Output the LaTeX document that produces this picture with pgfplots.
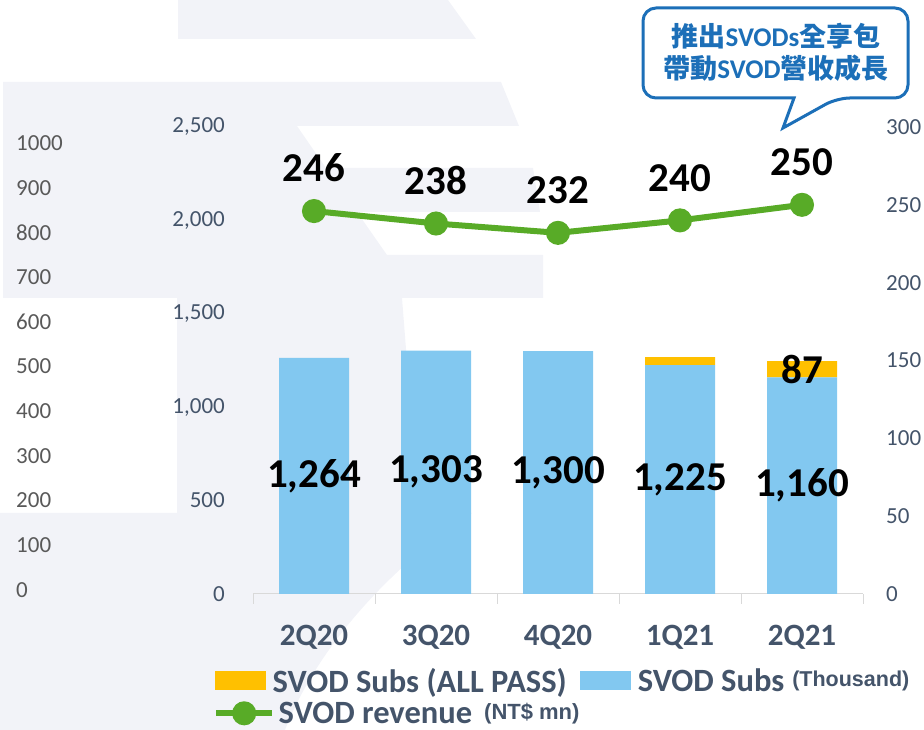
\documentclass[border=0pt]{standalone}
\usepackage{pgfplots}
\pgfplotsset{compat=1.18}
\usepackage{pgfplotstable}
\usepackage{fontspec}
\setmainfont{Carlito}
\newfontfamily\cjk{Noto Sans CJK TC}
\newfontfamily\arialf{Liberation Sans}
\definecolor{subsblue}{HTML}{82C8F0}
\definecolor{allpass}{HTML}{FFC000}
\definecolor{revgreen}{HTML}{58AB27}
\definecolor{ticktext}{HTML}{44546A}
\definecolor{outertext}{HTML}{595959}
\definecolor{wm}{HTML}{F2F3F8}
\definecolor{bubble}{HTML}{1C6FB8}
\definecolor{axisgray}{HTML}{D9D9D9}

\pgfplotstableread{
x subs allpass rev
0 1264 0 246
1 1303 0 238
2 1300 0 232
3 1225 43 240
4 1160 87 250
}\data

\pgfplotsset{
  /pgf/number format/.cd, 1000 sep={,}, assume math mode=true,
  /pgfplots/.cd,
  base/.style={
    scale only axis, width=610pt, height=467pt,
    xmin=-0.5, xmax=4.5, clip=false,
    major tick length=0pt,
  },
}

\begin{document}
\begin{tikzpicture}[x=1pt,y=1pt]
\useasboundingbox (0,0) rectangle (924,730);
% watermark
\fill[wm] (178,730) -- (448,730) -- (476,691) -- (178,691) -- cycle;
\fill[wm] (3,648) -- (501,648) -- (519,604) -- (297,604) -- (326,562) -- (533,562) -- (540,518) -- (357,518) -- (387,475) -- (543,475) -- (543,432) -- (3,432) -- cycle;
\fill[wm] (177,432) -- (402,432) -- (410,330) -- (420,217) -- (177,217) -- cycle;
\fill[wm] (0,217) -- (472,217) .. controls (400,170) and (320,90) .. (285,0) -- (0,0) -- cycle;

% outer ghost axis
\begin{axis}[
  at={(100pt,140pt)}, anchor=south west,
  scale only axis, width=10pt, height=447pt,
  xmin=0, xmax=1, ymin=0, ymax=1000,
  axis x line=none, axis y line*=left,
  y axis line style={draw=none},
  major tick length=0pt,
  ytick={0,100,...,1000},
  yticklabel style={anchor=west, inner sep=0pt, xshift=-84pt,
    font=\fontsize{23}{23}\selectfont, text=outertext,
    /pgf/number format/1000 sep={}},
]
\addplot[draw=none] coordinates {(0,0)};
\end{axis}

% main axis: bars
\begin{axis}[
  base,
  at={(253pt,136pt)}, anchor=south west,
  ymin=0, ymax=2500,
  ybar stacked, bar width=70pt,
  axis x line*=bottom, axis y line*=left,
  y axis line style={draw=none},
  x axis line style={draw=axisgray, line width=1pt},
  xtick={0,...,4}, xticklabels={2Q20,3Q20,4Q20,1Q21,2Q21},
  minor xtick={-0.5,0.5,...,4.5},
  minor x tick style={draw=axisgray, line width=1pt},
  minor tick length=10pt, tick align=outside,
  major x tick style={draw=none},
  ytick={0,500,...,2500},
  yticklabel style={anchor=east, inner sep=0pt, xshift=-28pt,
    font=\fontsize{23}{23}\selectfont, text=ticktext},
  xticklabel style={anchor=base, inner sep=0pt, yshift=-52pt,
    font=\fontsize{31}{31}\selectfont\bfseries, text=ticktext},
  reverse legend, legend columns=2,
  legend style={at={(axis description cs:-0.0623,-0.1863)}, anchor=west,
    draw=none, fill=none, inner sep=0pt,
    font=\fontsize{32.5}{32.5}\selectfont\bfseries, text=ticktext,
    nodes={inner xsep=2.5pt, inner ysep=0pt},
    /tikz/every even column/.append style={column sep=11pt}},
]
\addplot[fill=subsblue, draw=none,
  legend image code/.code={\fill[subsblue] (0pt,-9.5pt) rectangle (51pt,9.5pt);}]
  table[x=x,y=subs]{\data};
\addlegendentry{\hspace{4pt}SVOD Subs\hspace{8pt}{\arialf\fontsize{21.5}{21.5}\selectfont\raisebox{5pt}{(Thousand)}}}
\addplot[fill=allpass, draw=none,
  legend image code/.code={\fill[allpass] (0pt,-9.5pt) rectangle (51pt,9.5pt);}]
  table[x=x,y=allpass]{\data};
\addlegendentry{\hspace{4pt}SVOD Subs (ALL PASS)}
\end{axis}

% labels overlay
\begin{axis}[
  base, hide axis,
  at={(253pt,136pt)}, anchor=south west,
  ymin=0, ymax=2500,
]
\addplot[draw=none, mark=none, nodes near coords, point meta=explicit,
  nodes near coords style={anchor=center, inner sep=0pt,
    font=\fontsize{41}{41}\selectfont\bfseries, text=black}]
  table[x=x, y expr=\thisrow{subs}/2, meta=subs]{\data};
\addplot[draw=none, mark=none, nodes near coords, point meta=explicit,
  nodes near coords style={anchor=center, inner sep=0pt,
    font=\fontsize{41}{41}\selectfont\bfseries, text=black}]
  coordinates {(4,1203.5) [87]};
\end{axis}

% right axis: revenue
\begin{axis}[
  base,
  at={(253pt,136pt)}, anchor=south west,
  ymin=0, ymax=300,
  axis x line=none, axis y line*=right,
  y axis line style={draw=none},
  ytick={0,50,...,300},
  yticklabel style={anchor=west, inner sep=0pt, xshift=23pt,
    font=\fontsize{23}{23}\selectfont, text=ticktext},
  legend style={at={(axis description cs:-0.0656,-0.2555)}, anchor=west,
    draw=none, fill=none, inner sep=0pt,
    font=\fontsize{32.5}{32.5}\selectfont\bfseries, text=ticktext,
    nodes={inner xsep=2.5pt, inner ysep=0pt}},
]
\addplot[revgreen, line width=6pt, mark=*, mark size=9pt,
  mark options={draw=none, fill=revgreen},
  nodes near coords, point meta=explicit,
  nodes near coords style={anchor=south, inner sep=0pt, yshift=26pt,
    font=\fontsize{41}{41}\selectfont\bfseries, text=black},
  forget plot]
  table[x=x, y=rev, meta=rev]{\data};
\addlegendimage{revgreen, line width=6pt,
  legend image code/.code={\draw[revgreen, line width=6pt] (0pt,0pt) -- (56pt,0pt); \fill[revgreen] (28pt,0pt) circle[radius=9pt];}}
\addlegendentry{\hspace{1pt}SVOD revenue\hspace{12pt}{\arialf\fontsize{22}{22}\selectfont\raisebox{4pt}{(NT\$ mn)}}}
\end{axis}

% callout bubble
\draw[bubble, line width=3pt, fill=white, rounded corners=13pt]
  (643,722) -- (908,722) -- (908,632) -- (837,632) [sharp corners] -- (783,602) -- (794,632) [rounded corners=13pt] -- (643,632) -- cycle;
\node[text=bubble, font=\fontsize{27}{27}\selectfont\bfseries, inner sep=0pt] at (776,694) {{\cjk\bfseries 推出}SVODs{\cjk\bfseries 全享包}};
\node[text=bubble, font=\fontsize{27}{27}\selectfont\bfseries, inner sep=0pt] at (776,662) {{\cjk\bfseries 帶動}SVOD{\cjk\bfseries 營收成長}};
\end{tikzpicture}
\end{document}
